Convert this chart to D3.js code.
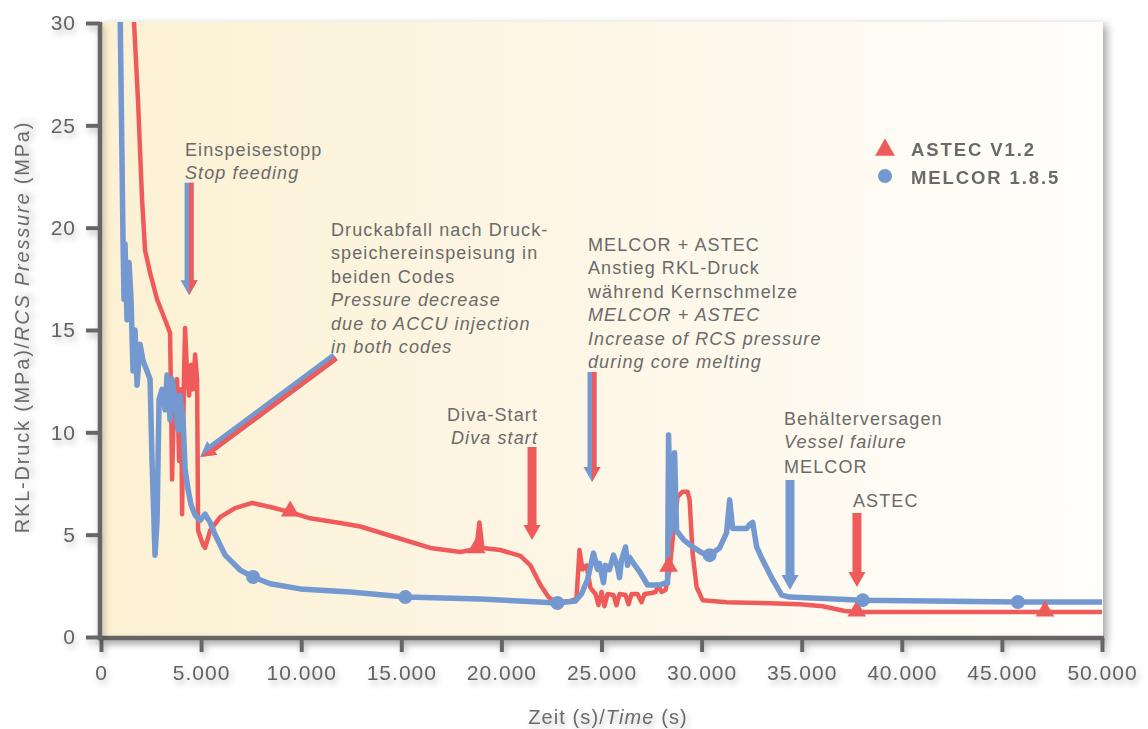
<!DOCTYPE html>
<html>
<head>
<meta charset="utf-8">
<script src="https://cdn.jsdelivr.net/npm/d3@7"></script>
<style>
  body { margin: 0; background: #fff; }
  svg text { font-family: "Liberation Sans", Arial, sans-serif; fill: #6a6a6a; }
</style>
</head>
<body>
<script>

// ASTEC V1.2 (time s, pressure MPa)
var astec = [
  [1600,31],[1850,26.2],[2050,21.4],[2200,18.9],[2450,17.8],[2800,16.5],[3200,15.5],[3450,14.85],
  [3500,11.6],[3550,7.7],[3650,11.6],[3800,12.6],[3900,8.6],[4000,12.1],[4050,6.0],[4150,13.0],
  [4200,15.1],[4300,12.8],[4400,11.8],[4500,13.3],[4600,12.1],[4700,13.8],[4800,12.6],[4850,5.2],
  [5100,4.5],[5200,4.35],[5450,5.2],[5950,5.86],[6700,6.3],[7550,6.55],[8450,6.35],[9450,6.1],
  [10450,5.8],[11950,5.57],[12950,5.4],[14950,4.8],[16450,4.35],[17950,4.15],[18750,4.3],
  [18900,5.6],[19050,4.35],[19950,4.25],[20950,3.96],[21450,3.5],[21950,2.54],[22350,1.95],
  [22700,1.7],[23450,1.76],[23750,1.86],[23900,4.25],[24050,3.3],[24250,3.5],[24450,2.4],
  [24700,2.1],[24850,1.56],[25000,2.2],[25150,1.5],[25300,2.1],[25600,2.05],[25750,1.55],
  [25900,2.1],[26200,2.05],[26350,1.6],[26500,2.1],[26800,2.1],[27000,1.7],[27150,2.1],
  [27500,2.15],[27700,2.2],[27850,2.5],[28000,2.2],[28200,2.3],[28400,3.27],[28600,5.2],
  [28800,6.85],[29050,7.1],[29300,7.1],[29400,6.7],[29550,4.1],[29750,2.44],[30050,1.8],
  [31250,1.7],[32900,1.66],[34900,1.6],[36050,1.5],[37150,1.27],[37750,1.22],[47150,1.22],[50000,1.22]
];

// MELCOR 1.8.5 (time s, pressure MPa)
var melcor = [
  [950,31],[1100,19.4],[1150,16.5],[1200,19.2],[1300,15.5],[1400,18.3],[1500,16.5],[1600,13.0],
  [1700,15.0],[1800,12.3],[1950,14.3],[2100,13.5],[2300,13.0],[2450,12.6],[2550,8.6],[2700,4.0],
  [2800,5.7],[2900,11.6],[3050,12.1],[3200,11.1],[3300,12.8],[3450,10.6],[3550,12.6],[3700,11.6],
  [3850,10.1],[3950,11.8],[4100,10.6],[4200,8.2],[4350,7.2],[4500,6.45],[4700,5.96],[4950,5.7],
  [5200,6.0],[5450,5.6],[5700,5.0],[6200,4.0],[6950,3.27],[7600,2.93],[8450,2.6],[9950,2.35],
  [12450,2.2],[15200,1.95],[18950,1.86],[20900,1.76],[22800,1.66],[23700,1.76],[24000,2.1],
  [24300,2.8],[24600,4.1],[24800,3.3],[24900,3.6],[25100,2.65],[25200,3.5],[25400,3.3],
  [25600,4.0],[25800,3.4],[25900,2.9],[26000,3.76],[26200,4.4],[26300,3.5],[26400,3.9],
  [26600,3.6],[26900,3.2],[27300,2.54],[27900,2.54],[28200,2.64],[28300,2.64],[28350,9.87],
  [28450,5.0],[28550,8.2],[28650,9.0],[28750,5.2],[28900,5.0],[29100,4.75],[29550,4.4],
  [30050,4.1],[30400,4.0],[30900,4.35],[31250,5.1],[31400,6.7],[31550,5.3],[32250,5.3],
  [32400,5.5],[32550,5.6],[32750,4.4],[33050,3.76],[33550,2.8],[34000,2.05],[34400,1.95],
  [38050,1.8],[45800,1.71],[50000,1.71]
];

var astecMarks = [[9450,6.1],[18750,4.3],[28350,3.4],[37750,1.22],[47150,1.22]];
var melcorMarks = [[7600,2.93],[15200,1.95],[22800,1.66],[30400,4.0],[38050,1.8],[45800,1.71]];

var xTicks = [0,5000,10000,15000,20000,25000,30000,35000,40000,45000,50000];
var yTicks = [0,5,10,15,20,25,30];

// arrows: start (time, pressure) -> tip (time, pressure)
var arrows = [
  {t0:4400, p0:22.2, t1:4400, p1:16.7, kind:'both'},
  {t0:11690, p0:13.7, t1:4950, p1:8.8, kind:'both'},
  {t0:24525, p0:12.95, t1:24525, p1:7.57, kind:'both'},
  {t0:21530, p0:9.28, t1:21530, p1:4.74, kind:'astec'},
  {t0:34415, p0:7.67, t1:34415, p1:2.3, kind:'melcor'},
  {t0:37760, p0:6.06, t1:37760, p1:2.44, kind:'astec'}
];

var red = '#ef5b5b', blue = '#7498d0';

var svg = d3.select('body').append('svg')
    .attr('width',1148)
    .attr('height',729);

var defs = svg.append('defs');

var grad = defs.append('linearGradient').attr('id','bg');
grad.append('stop').attr('offset','0%').attr('stop-color','#fcf1d3');
grad.append('stop').attr('offset','45%').attr('stop-color','#fdf6e5');
grad.append('stop').attr('offset','100%').attr('stop-color','#fffefb');

var sh = defs.append('filter').attr('id','shadow')
    .attr('x','-10%').attr('y','-10%').attr('width','120%').attr('height','130%');
sh.append('feDropShadow').attr('dx',4).attr('dy',3).attr('stdDeviation',4)
    .attr('flood-color','#000').attr('flood-opacity',0.35);

var tsh = defs.append('filter').attr('id','tshadow')
    .attr('x','-30%').attr('y','-30%').attr('width','160%').attr('height','200%');
tsh.append('feDropShadow').attr('dx',2).attr('dy',4).attr('stdDeviation',3)
    .attr('flood-color','#000').attr('flood-opacity',0.25);

defs.append('clipPath').attr('id','plotclip')
  .append('rect').attr('x',100).attr('y',22).attr('width',1004).attr('height',616);

var x = d3.scaleLinear().domain([0,50000]).range([101,1102]);
var y = d3.scaleLinear().domain([0,30]).range([637,23]);

// plot background
svg.append('rect')
    .attr('x',100).attr('y',22)
    .attr('width',1003).attr('height',616)
    .attr('fill','url(#bg)')
    .attr('filter','url(#shadow)');

var de = d3.formatLocale({decimal:',', thousands:'.', grouping:[3], currency:['','']}).format(',');

var xAxis = svg.append('g')
    .attr('transform','translate(0,638)')
    .attr('filter','url(#tshadow)')
    .call(d3.axisBottom(x).tickValues(xTicks).tickFormat(de).tickSize(14).tickSizeOuter(0).tickPadding(13));

var yAxis = svg.append('g')
    .attr('transform','translate(100,0)')
    .attr('filter','url(#tshadow)')
    .call(d3.axisLeft(y).tickValues(yTicks).tickSize(14).tickSizeOuter(0).tickPadding(10));

[xAxis, yAxis].forEach(function(a){
    a.select('.domain').attr('stroke','#666').attr('stroke-width',4.5);
    a.selectAll('.tick line').attr('stroke','#666').attr('stroke-width',4);
    a.selectAll('.tick text')
        .style('font-size','21px')
        .style('letter-spacing','1px')
        .style('fill','#626262');
});
xAxis.select('.domain').attr('d','M98,0H1104');
yAxis.select('.domain').attr('d','M0,640V22');

// curves
var line = d3.line().x(function(d){return x(d[0]);}).y(function(d){return y(d[1]);});

var plot = svg.append('g').attr('clip-path','url(#plotclip)');

plot.append('path').datum(astec)
    .attr('d',line)
    .attr('fill','none')
    .attr('stroke',red)
    .attr('stroke-width',4.5)
    .attr('stroke-linejoin','round');

plot.append('path').datum(melcor)
    .attr('d',line)
    .attr('fill','none')
    .attr('stroke',blue)
    .attr('stroke-width',5.5)
    .attr('stroke-linejoin','round');

var tri = d3.symbol().type(d3.symbolTriangle).size(150);

plot.selectAll('.am').data(astecMarks).enter().append('path')
    .attr('transform',function(d){return 'translate('+x(d[0])+','+(y(d[1])-1)+')';})
    .attr('d',tri)
    .attr('fill',red);

plot.selectAll('.mm').data(melcorMarks).enter().append('circle')
    .attr('cx',function(d){return x(d[0]);})
    .attr('cy',function(d){return y(d[1]);})
    .attr('r',7)
    .attr('fill',blue);

// arrows
function arrowPts(a, half){
    var sx = x(a.t0), sy = y(a.p0), ex = x(a.t1), ey = y(a.p1);
    var len = Math.hypot(ex-sx, ey-sy);
    var ux = (ex-sx)/len, uy = (ey-sy)/len;
    var nx = -uy, ny = ux;
    var w = 4.5, hw = 8.5, hl = 15;
    var bx = ex-ux*hl, by = ey-uy*hl;
    if (half) {
        return [[sx,sy],[ex,ey],[bx-nx*hw,by-ny*hw],[bx-nx*w,by-ny*w],[sx-nx*w,sy-ny*w]];
    }
    return [[sx+nx*w,sy+ny*w],[bx+nx*w,by+ny*w],[bx+nx*hw,by+ny*hw],[ex,ey],
            [bx-nx*hw,by-ny*hw],[bx-nx*w,by-ny*w],[sx-nx*w,sy-ny*w]];
}

arrows.forEach(function(a){
    var col = a.kind == 'astec' ? red : blue;
    svg.append('polygon')
        .attr('points',arrowPts(a,false).join(' '))
        .attr('fill',col);
    if (a.kind == 'both') {
        svg.append('polygon')
            .attr('points',arrowPts(a,true).join(' '))
            .attr('fill',red);
    }
});

// annotations
var notes = [
  {x:185, y:156, anchor:'start', lines:[['Einspeisestopp',0],['Stop feeding',1]]},
  {x:331, y:236, anchor:'start', lines:[['Druckabfall nach Druck-',0],['speichereinspeisung in',0],['beiden Codes',0],
      ['Pressure decrease',1],['due to ACCU injection',1],['in both codes',1]]},
  {x:588, y:251, anchor:'start', lines:[['MELCOR + ASTEC',0],['Anstieg RKL-Druck',0],['während Kernschmelze',0],
      ['MELCOR + ASTEC',1],['Increase of RCS pressure',1],['during core melting',1]]},
  {x:538, y:421, anchor:'end', lines:[['Diva-Start',0],['Diva start',1]]},
  {x:784, y:425, anchor:'start', lines:[['Behälterversagen',0],['Vessel failure',1]]},
  {x:784, y:473, anchor:'start', lines:[['MELCOR',0]]},
  {x:853, y:507, anchor:'start', lines:[['ASTEC',0]]}
];

notes.forEach(function(n){
    var t = svg.append('text')
        .attr('x',n.x).attr('y',n.y)
        .attr('text-anchor',n.anchor)
        .style('font-size','18px')
        .style('letter-spacing','1.1px');
    n.lines.forEach(function(l,i){
        t.append('tspan')
            .attr('x',n.x)
            .attr('y',n.y+i*23.4)
            .style('font-style',l[1] ? 'italic' : 'normal')
            .text(l[0]);
    });
});

// legend
var legend = svg.append('g');
legend.append('path')
    .attr('transform','translate(885,150)')
    .attr('d',d3.symbol().type(d3.symbolTriangle).size(170))
    .attr('fill',red);
legend.append('circle').attr('cx',885).attr('cy',176).attr('r',7).attr('fill',blue);
legend.append('text').attr('x',911).attr('y',156)
    .style('font-size','18.5px').style('font-weight','bold').style('letter-spacing','1.9px')
    .text('ASTEC V1.2');
legend.append('text').attr('x',911).attr('y',184)
    .style('font-size','18.5px').style('font-weight','bold').style('letter-spacing','1.9px')
    .text('MELCOR 1.8.5');

// axis titles
var xt = svg.append('text')
    .attr('x',608).attr('y',724)
    .attr('text-anchor','middle')
    .attr('filter','url(#tshadow)')
    .style('font-size','20px').style('letter-spacing','1.1px');
xt.append('tspan').text('Zeit (s)/');
xt.append('tspan').style('font-style','italic').text('Time');
xt.append('tspan').text(' (s)');

var yt = svg.append('text')
    .attr('transform','translate(29,327) rotate(-90)')
    .attr('text-anchor','middle')
    .attr('filter','url(#tshadow)')
    .style('font-size','20px').style('letter-spacing','1.8px');
yt.append('tspan').text('RKL-Druck (MPa)/');
yt.append('tspan').style('font-style','italic').text('RCS Pressure');
yt.append('tspan').text(' (MPa)');

</script>
</body>
</html>
